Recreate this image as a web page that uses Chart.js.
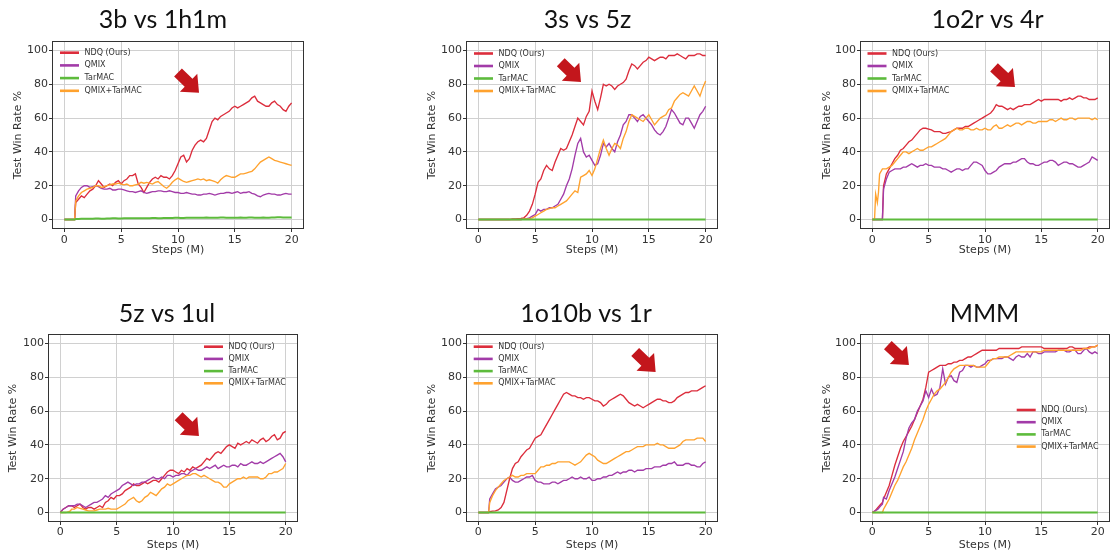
<!DOCTYPE html>
<html><head><meta charset="utf-8">
<script src="https://cdn.jsdelivr.net/npm/chart.js@4.4.0/dist/chart.umd.min.js"></script>
<style>
html,body{margin:0;padding:0;background:#fff;width:1112px;height:551px;overflow:hidden;position:relative;}
canvas{position:absolute;}
</style></head><body>
<canvas id="c1"></canvas><canvas id="c2"></canvas><canvas id="c3"></canvas>
<canvas id="c4"></canvas><canvas id="c5"></canvas><canvas id="c6"></canvas>
<script>
// ---- data ----
const SERIES_LABELS = ['NDQ (Ours)', 'QMIX', 'TarMAC', 'QMIX+TarMAC'];
const X_TICKS = [0, 5, 10, 15, 20];
const Y_TICKS = [0, 20, 40, 60, 80, 100];

const STEPS = [0,0.25,0.5,0.75,0.9,
 1,1.25,1.5,1.75, 2,2.25,2.5,2.75, 3,3.25,3.5,3.75, 4,4.25,4.5,4.75, 5,5.25,5.5,5.75,
 6,6.25,6.5,6.75, 7,7.25,7.5,7.75, 8,8.25,8.5,8.75, 9,9.25,9.5,9.75, 10,10.25,10.5,10.75,
 11,11.25,11.5,11.75, 12,12.25,12.5,12.75, 13,13.25,13.5,13.75, 14,14.25,14.5,14.75, 15,15.25,15.5,15.75,
 16,16.25,16.5,16.75, 17,17.25,17.5,17.75, 18,18.25,18.5,18.75, 19,19.25,19.5,19.75, 20];
const STEPS_3 = [0,0.2,0.3,0.45,0.55,0.65,0.9,
 1,1.25,1.5,1.75, 2,2.25,2.5,2.75, 3,3.25,3.5,3.75, 4,4.25,4.5,4.75, 5,5.25,5.5,5.75,
 6,6.25,6.5,6.75, 7,7.25,7.5,7.75, 8,8.25,8.5,8.75, 9,9.25,9.5,9.75, 10,10.25,10.5,10.75,
 11,11.25,11.5,11.75, 12,12.25,12.5,12.75, 13,13.25,13.5,13.75, 14,14.25,14.5,14.75, 15,15.25,15.5,15.75,
 16,16.25,16.5,16.75, 17,17.25,17.5,17.75, 18,18.25,18.5,18.75, 19,19.25,19.5,19.75, 20];

// 3b vs 1h1m
const NDQ_1 = [0,0,0,0,0, 10,12,14,13, 15,17,18,20, 23,21,19,20, 21,20,22,23, 21,23,24,26,
 26,27,21,19, 16,19,22,24, 25,24,26,25, 25,24,26,29, 33,37,38,34,
 36,41,44,46, 47,46,48,53, 58,60,59,61, 62,63,64,66, 67,66,67,68,
 69,70,72,73, 70,69,68,67, 67,69,70,68, 67,65,64,67, 69];
const QMIX_1 = [0,0,0,0,0, 14,17,19,20, 20,19,19.5,20, 19.5,18.5,18,18, 18.5,17.5,17.5,18, 18,17.5,17,16.5,
 16.5,16,16.5,17, 16,15.5,16,16.5, 16.5,17,17,16.5, 16.5,17,16.5,16, 16,15.5,15.5,16,
 15.5,15,15,14.5, 14.5,15,15,15.5, 15,14.5,15,15.5, 15.5,16,16,15.5, 16,16.5,15.5,16,
 16,16.5,15.5,15, 14,13.5,14.5,15, 15.5,15,15,14.5, 14.5,15,15.5,15, 15];
const TARMAC_1 = [0,0,0,0,0, 0.3,0.3,0.4,0.4, 0.4,0.5,0.5,0.6, 0.6,0.5,0.5,0.6, 0.6,0.7,0.7,0.6, 0.6,0.7,0.7,0.8,
 0.8,0.7,0.7,0.8, 0.8,0.8,0.8,0.9, 0.9,0.8,0.8,0.9, 0.9,0.9,0.9,1.0, 1.0,0.9,0.9,1.0,
 1.0,1.1,1.1,1.0, 1.0,1.1,1.2,1.1, 1.0,1.1,1.1,1.2, 1.2,1.1,1.1,1.0, 1.0,1.1,1.2,1.1,
 1.1,1.2,1.2,1.0, 1.0,1.1,1.2,1.1, 1.1,1.2,1.2,1.3, 1.3,1.2,1.2,1.2, 1.2];
const QMIXTAR_1 = [0,0,0,0,0, 11,14,16,17, 18,18.5,19,20, 20,19,19.5,20, 20.5,21,21,21.5, 21,20.5,21,20,
 20,20.5,21,22, 21.5,22,21.5,21, 22,22.5,21,19.5, 18.5,20,22,23.5, 24.5,23.5,22.5,22,
 22.5,23,23.5,24, 23.5,24,23,23.5, 23,22.5,21.5,23.5, 25,26,25.5,25, 25,26,27,27,
 27.5,28,28.5,30, 32,34,35,36, 37,36,35,34.5, 34,33.5,33,32.5, 32];

// 3s vs 5z
const NDQ_2 = [0,0,0,0,0, 0,0,0,0, 0,0,0,0, 0.3,0.3,0.5,0.6, 1,2.5,5,9, 15,22,24,29,
 32,30,29,34, 38,42,41,42, 46,50,55,60, 58,56,61,64, 76,70,65,72,
 80,79,80,79, 77,79,80,81, 83,88,92,91, 89,91,93,94, 96,95,94,95,
 96,96,95,97, 97,97,98,97, 96,95,97,97, 97,98,98,97, 97];
const QMIX_2 = [0,0,0,0,0, 0,0,0,0, 0,0,0,0, 0,0,0,0, 0.3,0.5,1,2, 3,6,5,6,
 6,7,7,8, 9,12,15,20, 24,30,38,45, 48,40,37,38, 35,32,33,38,
 45,43,45,42, 40,46,50,56, 58,62,62,60, 58,61,62,60, 58,56,53,51,
 50,52,55,60, 65,63,60,57, 56,60,60,57, 54,58,62,64, 67];
const TARMAC_2 = [0,0,0,0,0, 0,0,0,0, 0,0,0,0, 0,0,0,0, 0,0,0,0, 0,0,0,0,
 0,0,0,0, 0,0,0,0, 0,0,0,0, 0,0,0,0, 0,0,0,0,
 0,0,0,0, 0,0,0,0, 0,0,0,0, 0,0,0,0, 0,0,0,0,
 0,0,0,0, 0,0,0,0, 0,0,0,0, 0,0,0,0, 0];
const QMIXTAR_2 = [0,0,0,0,0, 0,0,0,0, 0,0,0,0, 0,0,0,0, 0.3,0.3,0.5,1, 2,3,4,5,
 6,6.5,7,7, 8,9,10,11, 13,15,17,16, 25,26,27,29, 26,30,36,42,
 47,42,38,42, 45,44,42,48, 52,58,62,61, 60,59,58,60, 62,59,56,58,
 60,61,62,65, 66,70,72,74, 75,74,73,76, 79,76,73,78, 82];

// 1o2r vs 4r
const NDQ_3 = [0,0,0,0,0,0,0, 20,27,30,33, 36,38,41,42, 44,46,47,49, 51,53,54,54, 53.5,53,52,52,
 52,51,51,51.5, 52,53,54,54, 54,55,55,56, 57,58,59,60, 61,62,63,65,
 68,67,67,66, 65,66,65,66, 67,67,68,68, 68,69,70,71, 70,71,71,71,
 71,71,71,70, 71,71,72,71, 72,73,73,72, 72,71,71,71, 72];
const QMIX_3 = [0,0,0,0,0,0,0, 18,24,28,29, 30,30,30,31, 31,32,33,32, 31,32,32,33, 32,32,31,31,
 31,30,30,29, 28,29,30,30, 29,30,30,32, 34,34,33,32, 29,27,27,28,
 29,31,32,33, 33,33,34,34, 35,36,36,34, 33,33,32,32, 33,34,34,35,
 35,34,32,33, 34,34,33,33, 32,31,31,32, 33,34,37,36, 35];
const TARMAC_3 = [0,0,0,0,0,0,0, 0,0,0,0, 0,0,0,0, 0,0,0,0, 0,0,0,0, 0,0,0,0,
 0,0,0,0, 0,0,0,0, 0,0,0,0, 0,0,0,0, 0,0,0,0,
 0,0,0,0, 0,0,0,0, 0,0,0,0, 0,0,0,0, 0,0,0,0,
 0,0,0,0, 0,0,0,0, 0,0,0,0, 0,0,0,0, 0];
const QMIXTAR_3 = [0,0,15,10,16,27,30, 30,30,31,32, 34,36,38,40, 40,39,40,41, 42,41,41,42, 43,43,44,45,
 46,47,48,50, 52,53,54,53, 53,54,54,53, 53,54,53,53, 54,53,53,55,
 56,54,54,55, 56,55,56,57, 57,56,57,58, 58,57,57,58, 58,58,58,59,
 59,58,59,60, 59,59,60,60, 59,60,60,60, 60,60,59,60, 59];

// 5z vs 1ul
const NDQ_4 = [0,2,3,4,4, 4,3,4,5, 3,2,3,3, 2,3,4,3, 6,7,9,8, 10,10,11,13,
 14,15,17,16, 16,17,18,17, 18,19,19,18, 20,22,24,25, 25,24,23,25,
 24,26,25,27, 26,27,28,30, 32,31,33,35, 36,35,37,39, 40,39,38,41,
 40,41,42,41, 43,42,41,43, 44,42,43,45, 46,43,44,47, 48];
const QMIX_4 = [0,2,3,4,4, 4,4,5,5, 4,3,4,5, 6,6,7,8, 10,9,11,12, 13,14,16,17,
 18,17,16,17, 17,18,18,19, 20,21,20,20, 21,20,22,22, 21,22,22,23,
 23,22,24,25, 26,25,25,26, 27,26,27,28, 26,27,28,27, 27,28,28,27,
 29,28,28,29, 30,29,29,30, 29,30,31,32, 33,34,35,33, 30];
const TARMAC_4 = [0,0,0,0,0, 0,0,0,0, 0,0,0,0, 0,0,0,0, 0,0,0,0, 0,0,0,0,
 0,0,0,0, 0,0,0,0, 0,0,0,0, 0,0,0,0, 0,0,0,0,
 0,0,0,0, 0,0,0,0, 0,0,0,0, 0,0,0,0, 0,0,0,0,
 0,0,0,0, 0,0,0,0, 0,0,0,0, 0,0,0,0, 0];
const QMIXTAR_4 = [0,0,0,0.5,1, 2,2,3,2.5, 2,1.5,1,1, 1,1.5,2,2, 2,2.5,2,2, 2,3,4,5,
 7,8,9,7, 6,7,9,10, 12,11,10,12, 14,15,17,16, 17,18,19,20,
 21,22,22,23, 23,22,21,22, 21,20,19,18, 18,17,15,15, 17,18,19,20,
 20,21,20,21, 21,21,21,20, 20,21,23,23, 24,24,25,26, 29];

// 1o10b vs 1r
const NDQ_5 = [0,0,0,0,0, 0.5,0.8,1,1.5, 3,6,13,20, 26,29,30,33, 35,37,38,41, 44,45,46,49,
 52,55,58,61, 64,67,70,71, 70,69,69,68, 68,67,68,68, 67,66,66,65,
 63,64,66,67, 68,69,70,69, 67,65,64,63, 64,63,62,63, 64,65,66,67,
 67,66,66,65, 65,66,68,69, 70,71,71,72, 72,72,73,74, 75];
const QMIX_5 = [0,0,0,0,0, 8,11,14,15, 16,18,20,21, 19,18,18,19, 20,21,21,22, 19,18,18,17,
 17,17,18,18, 17,18,19,19, 20,21,20,20, 21,20,20,21, 19,19,20,20,
 21,21,22,22, 23,24,23,24, 24,25,25,24, 25,25,25,26, 26,26,27,27,
 27,28,28,29, 29,30,28,28, 28,29,29,28, 28,27,27,29, 30];
const TARMAC_5 = [0,0,0,0,0, 0,0,0,0, 0,0,0,0, 0,0,0,0, 0,0,0,0, 0,0,0,0,
 0,0,0,0, 0,0,0,0, 0,0,0,0, 0,0,0,0, 0,0,0,0,
 0,0,0,0, 0,0,0,0, 0,0,0,0, 0,0,0,0, 0,0,0,0,
 0,0,0,0, 0,0,0,0, 0,0,0,0, 0,0,0,0, 0];
const QMIXTAR_5 = [0,0,0,0,0, 6,10,13,15, 17,19,20,21, 22,21,21,22, 22,23,23,23, 23,25,27,27,
 28,28,29,29, 30,30,30,30, 30,29,28,29, 30,32,34,35, 34,33,31,30,
 29,29,30,31, 32,33,34,35, 36,36,37,38, 39,39,39,40, 40,40,40,41,
 40,40,39,38, 38,38,39,40, 42,43,43,43, 43,44,44,44, 42];

// MMM
const NDQ_6 = [0,1,3,5,6, 8,12,16,22, 28,33,38,42, 45,48,51,55, 59,63,67,74, 83,84,85,86,
 87,87,87,88, 88,89,89,90, 90,91,92,92, 93,94,95,96, 96,96,96,96,
 96,97,97,97, 97,97,97,97, 97,98,98,98, 98,98,98,98, 98,97,97,97,
 97,97,97,97, 97,97,98,98, 97,97,97,97, 97,98,98,98, 99];
const QMIX_6 = [0,1,2,4,5, 9,8,13,17, 21,26,31,36, 44,50,53,55, 60,63,66,72, 68,73,69,70,
 74,85,76,80, 81,78,77,83, 84,87,87,86, 87,86,86,87, 88,90,90,91,
 91,91,91,92, 92,91,90,92, 93,92,92,94, 92,95,95,94, 94,95,95,95,
 95,95,96,96, 96,95,95,96, 96,94,94,96, 97,95,94,95, 94];
const TARMAC_6 = [0,0,0,0,0, 0,0,0,0, 0,0,0,0, 0,0,0,0, 0,0,0,0, 0,0,0,0,
 0,0,0,0, 0,0,0,0, 0,0,0,0, 0,0,0,0, 0,0,0,0,
 0,0,0,0, 0,0,0,0, 0,0,0,0, 0,0,0,0, 0,0,0,0,
 0,0,0,0, 0,0,0,0, 0,0,0,0, 0,0,0,0, 0];
const QMIXTAR_6 = [0,0,0,0,0, 2,5,8,12, 16,19,23,27, 30,34,38,43, 47,51,55,60, 64,67,70,72,
 73,75,77,80, 83,85,86,87, 87,87,87,87, 87,86,86,86, 86,88,90,91,
 91,92,92,92, 92,93,94,95, 95,95,95,95, 95,95,95,95, 95,96,96,96,
 96,96,96,96, 96,96,96,96, 96,96,96,97, 97,97,98,98, 99];

// ---- styles / layout ----
const COLORS = ['#dc2d3c', '#a23ba8', '#5dbb3c', '#ffa22e'];
const WIDTHS = [1.35, 1.35, 2, 1.35];
const ORDERS = [4, 3, 0, 1];
const TICK_FONT = {family: 'DejaVu Sans', size: 11};

const CHARTS = [
  {id:'c1', title:'3b vs 1h1m', steps:STEPS, series:[NDQ_1,QMIX_1,TARMAC_1,QMIXTAR_1],
   box:{left:0,top:0,w:326,h:260,yw:53,rw:23,tt:5,tb:7,ytp:11.4,xh:32,xp:2,xtp:3.4},
   legend:{x:7,y:10.7,dy:12.7}, arrow:[[10.0,87],[11.85,75]]},
  {id:'c2', title:'3s vs 5z', steps:STEPS, series:[NDQ_2,QMIX_2,TARMAC_2,QMIXTAR_2],
   box:{left:420,top:0,w:335,h:260,yw:47,rw:38,tt:5,tb:7,ytp:5.4,xh:32,xp:2,xtp:3.4},
   legend:{x:7,y:11.5,dy:12.5}, arrow:[[7.25,93],[9.03,81.4]]},
  {id:'c3', title:'1o2r vs 4r', steps:STEPS_3, series:[NDQ_3,QMIX_3,TARMAC_3,QMIXTAR_3],
   box:{left:815,top:0,w:345,h:260,yw:46,rw:51,tt:5,tb:7,ytp:5.4,xh:32,xp:2,xtp:3.4},
   legend:{x:6.5,y:11.5,dy:12.5}, arrow:[[10.8,90],[12.66,78.4]]},
  {id:'c4', title:'5z vs 1ul', steps:STEPS, series:[NDQ_4,QMIX_4,TARMAC_4,QMIXTAR_4],
   box:{left:0,top:290,w:334,h:265,yw:49,rw:37,tt:9,tb:6,ytp:6.4,xh:34,xp:1,xtp:3.4},
   legend:{x:155,y:11.7,dy:12.2}, arrow:[[10.5,57],[12.3,45.3]]},
  {id:'c5', title:'1o10b vs 1r', steps:STEPS, series:[NDQ_5,QMIX_5,TARMAC_5,QMIXTAR_5],
   box:{left:420,top:290,w:332,h:265,yw:47,rw:35,tt:9,tb:6,ytp:5.4,xh:34,xp:1,xtp:3.4},
   legend:{x:6.7,y:11.7,dy:12.2}, arrow:[[13.8,95],[15.6,83.1]]},
  {id:'c6', title:'MMM', steps:STEPS, series:[NDQ_6,QMIX_6,TARMAC_6,QMIXTAR_6],
   box:{left:815,top:290,w:339,h:265,yw:46,rw:45,tt:9,tb:6,ytp:5.4,xh:34,xp:1,xtp:3.4},
   legend:{x:155.7,y:75,dy:12.2}, arrow:[[1.38,99],[3.25,87.3]]}
];

const framePlugin = {
  id: 'frame',
  afterDraw(chart) {
    const {ctx, chartArea: a} = chart;
    ctx.save();
    ctx.strokeStyle = '#333';
    ctx.lineWidth = 1;
    ctx.strokeRect(Math.round(a.left) - 0.5, Math.round(a.top) - 0.5, Math.round(a.right - a.left) + 1, Math.round(a.bottom - a.top) + 1);
    ctx.restore();
  }
};

function legendPlugin(cfg) {
  return {
    id: 'inLegend',
    afterDraw(chart) {
      const {ctx, chartArea: a} = chart;
      const lg = cfg.legend;
      ctx.save();
      chart.data.datasets.forEach((ds, i) => {
        const y = a.top + lg.y + i * lg.dy;
        const x0 = a.left + lg.x;
        ctx.strokeStyle = ds.borderColor;
        ctx.lineWidth = 2.6;
        ctx.beginPath(); ctx.moveTo(x0, y); ctx.lineTo(x0 + 19, y); ctx.stroke();
        ctx.fillStyle = '#333';
        ctx.font = '8px "DejaVu Sans"';
        ctx.textBaseline = 'middle';
        ctx.textAlign = 'left';
        ctx.fillText(ds.label, x0 + 24.5, y);
      });
      ctx.restore();
    }
  };
}

function arrowPlugin(cfg) {
  return {
    id: 'bigArrow',
    afterDatasetsDraw(chart) {
      const {ctx, scales} = chart;
      const [t, p] = cfg.arrow;
      const tx = scales.x.getPixelForValue(t[0]), ty = scales.y.getPixelForValue(t[1]);
      const px = scales.x.getPixelForValue(p[0]), py = scales.y.getPixelForValue(p[1]);
      const L = Math.hypot(px - tx, py - ty);
      const ux = (px - tx) / L, uy = (py - ty) / L;
      const nx = -uy, ny = ux;
      const hl = 14.5, hh = 12.5, sh = 5.6;
      const bx = px - ux * hl, by = py - uy * hl;
      ctx.save();
      ctx.fillStyle = '#c3161c';
      ctx.beginPath();
      ctx.moveTo(tx + nx * sh, ty + ny * sh);
      ctx.lineTo(bx + nx * sh, by + ny * sh);
      ctx.lineTo(bx + nx * hh, by + ny * hh);
      ctx.lineTo(px, py);
      ctx.lineTo(bx - nx * hh, by - ny * hh);
      ctx.lineTo(bx - nx * sh, by - ny * sh);
      ctx.lineTo(tx - nx * sh, ty - ny * sh);
      ctx.closePath();
      ctx.fill();
      ctx.restore();
    }
  };
}

function gridOpts() {
  return {color: '#d0d0d0', lineWidth: 1, tickLength: 4, tickColor: '#333', tickWidth: 1, drawTicks: true};
}

function makeChart(cfg) {
  const el = document.getElementById(cfg.id);
  const b = cfg.box;
  el.width = b.w; el.height = b.h;
  el.style.left = b.left + 'px'; el.style.top = b.top + 'px';
  el.style.width = b.w + 'px'; el.style.height = b.h + 'px';
  new Chart(el, {
    type: 'line',
    data: {
      datasets: SERIES_LABELS.map((lab, i) => ({
        label: lab,
        data: cfg.steps.map((x, k) => ({x: x, y: cfg.series[i][k]})),
        borderColor: COLORS[i],
        backgroundColor: COLORS[i],
        borderWidth: WIDTHS[i],
        pointRadius: 0,
        tension: 0,
        fill: false,
        order: ORDERS[i]
      }))
    },
    options: {
      responsive: false,
      animation: false,
      devicePixelRatio: 1,
      layout: {padding: 0},
      events: [],
      plugins: {
        legend: {display: false},
        tooltip: {enabled: false},
        title: {display: true, text: cfg.title, color: '#111',
          font: {family: 'Lato', size: 25, weight: 'normal'},
          padding: {top: b.tt, bottom: b.tb}}
      },
      scales: {
        x: {
          type: 'linear', min: -1, max: 21,
          afterBuildTicks: (a) => { a.ticks = X_TICKS.map(v => ({value: v})); },
          afterFit: (a) => { a.height = b.xh; },
          grid: gridOpts(),
          border: {display: false},
          ticks: {font: TICK_FONT, color: '#333', padding: b.xp, maxRotation: 0, autoSkip: false},
          title: {display: true, text: 'Steps (M)', font: TICK_FONT, color: '#333', padding: {top: 0, bottom: b.xtp}}
        },
        y: {
          type: 'linear', min: -5, max: 105,
          afterBuildTicks: (a) => { a.ticks = Y_TICKS.map(v => ({value: v})); },
          afterFit: (a) => { a.width = b.yw; },
          grid: gridOpts(),
          border: {display: false},
          ticks: {font: TICK_FONT, color: '#333', padding: 1},
          title: {display: true, text: 'Test Win Rate %', font: TICK_FONT, color: '#333', padding: {top: b.ytp, bottom: 0}}
        },
        y2: {
          position: 'right', display: true,
          grid: {display: false}, border: {display: false},
          ticks: {display: false},
          afterFit: (a) => { a.width = b.rw; }
        }
      }
    },
    plugins: [framePlugin, legendPlugin(cfg), arrowPlugin(cfg)]
  });
}

CHARTS.forEach(makeChart);
</script>
</body></html>
